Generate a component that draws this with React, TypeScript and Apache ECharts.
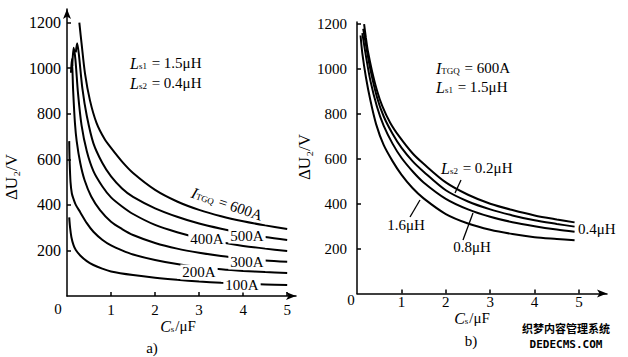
import React, { useEffect, useRef } from "react";
import * as echarts from "echarts";

const FONT = '"Liberation Serif", "Times New Roman", serif';

// tick labels
const xTickValues = [1, 2, 3, 4, 5];
const yTickValues = [200, 400, 600, 800, 1000, 1200];

// a) L_s1 = 1.5uH, L_s2 = 0.4uH, curves for I_TGQ
const a600 = [[0.28,1200],[0.33,1110],[0.41,975],[0.52,860],[0.67,760],[0.85,690],[1,650],[1.25,590],[1.5,540],[2,466],[2.5,415],[3,378],[3.5,350],[4,328],[4.5,310],[5,294]];
const a500 = [[0.2,1070],[0.23,1110],[0.27,1060],[0.35,910],[0.45,790],[0.6,670],[0.8,585],[1,525],[1.25,472],[1.5,435],[2,385],[2.5,348],[3,318],[3.5,295],[4,275],[4.5,259],[5,246]];
const a400 = [[0.12,1010],[0.15,1090],[0.19,1040],[0.25,890],[0.33,750],[0.45,635],[0.6,548],[0.8,482],[1,433],[1.25,393],[1.5,360],[2,312],[2.5,280],[3,255],[3.5,236],[4,220],[4.5,208],[5,198]];
const a300 = [[0.09,980],[0.11,1040],[0.14,900],[0.18,760],[0.22,680],[0.3,585],[0.4,508],[0.55,437],[0.75,377],[1,326],[1.25,294],[1.5,268],[2,233],[2.5,208],[3,190],[3.5,176],[4,165],[4.5,156],[5,150]];
const a200 = [[0.05,680],[0.06,590],[0.08,500],[0.11,450],[0.15,425],[0.2,400],[0.3,368],[0.45,320],[0.6,282],[0.8,247],[1,222],[1.25,200],[1.5,182],[2,158],[2.5,140],[3,127],[3.5,117],[4,110],[4.5,105],[5,101]];
const a100 = [[0.05,345],[0.07,300],[0.1,258],[0.15,222],[0.2,202],[0.3,178],[0.45,153],[0.6,136],[0.8,120],[1,108],[1.5,92],[2,80],[2.5,71],[3,64],[3.5,58],[4,54],[4.5,51],[5,48]];

// b) I_TGQ = 600A, L_s1 = 1.5uH, curves for L_s2
const b02 = [[0.16,1200],[0.2,1140],[0.25,1075],[0.34,990],[0.45,905],[0.57,835],[0.75,760],[0.95,700],[1.25,625],[1.5,578],[2,495],[2.5,440],[3,400],[3.5,372],[4,348],[4.5,330],[4.9,317]];
const b04 = [[0.14,1180],[0.2,1110],[0.3,1000],[0.45,875],[0.6,790],[0.8,712],[1,650],[1.25,590],[1.5,543],[2,460],[2.5,410],[3,375],[3.5,348],[4,326],[4.5,310],[4.9,298]];
const b08 = [[0.12,1160],[0.2,1060],[0.3,950],[0.45,832],[0.6,748],[0.8,668],[1,605],[1.25,545],[1.5,495],[2,422],[2.5,375],[3,342],[3.5,318],[4,300],[4.5,285],[4.9,275]];
const b16 = [[0.08,1150],[0.12,1070],[0.2,965],[0.3,862],[0.43,755],[0.6,662],[0.8,590],[1,530],[1.25,470],[1.5,424],[2,354],[2.5,312],[3,284],[3.5,265],[4,251],[4.5,243],[4.9,237]];

const aCurves = [
  { name: "600A", data: a600 },
  { name: "500A", data: a500 },
  { name: "400A", data: a400 },
  { name: "300A", data: a300 },
  { name: "200A", data: a200 },
  { name: "100A", data: a100 },
];
const bCurves = [
  { name: "0.2μH", data: b02 },
  { name: "0.4μH", data: b04 },
  { name: "0.8μH", data: b08 },
  { name: "1.6μH", data: b16 },
];

const plain = (v: number) => String(v);

function makeX(gridIndex: number, max: number, margin: number) {
  return {
    type: "value",
    gridIndex,
    min: 0,
    max,
    axisLine: {
      lineStyle: { color: "#000", width: 1.5 },
      symbol: ["none", "arrow"],
      symbolSize: [6, 10],
    },
    axisTick: { inside: true, length: 4, customValues: xTickValues, lineStyle: { color: "#000", width: 1.5 } },
    axisLabel: { customValues: xTickValues, margin, fontSize: 15, fontFamily: FONT, color: "#000", formatter: plain },
    splitLine: { show: false },
  };
}
function makeY(gridIndex: number, max: number, margin: number, fontSize: number, arrow: boolean) {
  return {
    type: "value",
    gridIndex,
    min: 0,
    max,
    axisLine: {
      show: true,
      lineStyle: { color: "#000", width: 1.5 },
      symbol: arrow ? ["none", "arrow"] : ["none", "none"],
      symbolSize: [6, 10],
    },
    axisTick: { show: true, inside: true, length: 4, customValues: yTickValues, lineStyle: { color: "#000", width: 1.5 } },
    axisLabel: { customValues: yTickValues, margin, fontSize, fontFamily: FONT, color: "#000", formatter: plain },
    splitLine: { show: false },
  };
}

const txt = (x: number, y: number, text: string, extra: any = {}, rot = 0) => ({
  type: "text",
  x,
  y,
  rotation: rot,
  z: 100,
  style: {
    text,
    fill: "#000",
    fontSize: 15,
    fontFamily: FONT,
    align: "center",
    verticalAlign: "middle",
    ...extra,
  },
});

const subRich = {
  i: { fontStyle: "italic", fontSize: 16, fontFamily: FONT, fill: "#000", lineHeight: 15 },
  s: { fontSize: 9, fontFamily: FONT, fill: "#000", lineHeight: 9, padding: [5, 1, 0, 0] },
  n: { fontSize: 15, fontFamily: FONT, fill: "#000", lineHeight: 15 },
};

const line = (x1: number, y1: number, x2: number, y2: number) => ({
  type: "line",
  z: 100,
  shape: { x1, y1, x2, y2 },
  style: { stroke: "#000", lineWidth: 1.3 },
});

export default function App() {
  const ref = useRef<HTMLDivElement>(null);
  useEffect(() => {
    if (!ref.current) return;
    const chart = echarts.init(ref.current, null, { renderer: "svg" });
    const series: any[] = [];
    aCurves.forEach((c) =>
      series.push({
        type: "line",
        name: c.name,
        xAxisIndex: 0,
        yAxisIndex: 0,
        data: c.data,
        smooth: 0.3,
        showSymbol: false,
        lineStyle: { color: "#000", width: 2 },
      })
    );
    bCurves.forEach((c) =>
      series.push({
        type: "line",
        name: c.name,
        xAxisIndex: 1,
        yAxisIndex: 1,
        data: c.data,
        smooth: 0.3,
        showSymbol: false,
        lineStyle: { color: "#000", width: 2 },
      })
    );
    const bg = { backgroundColor: "#fff", padding: [0, 2] };
    chart.setOption({
      animation: false,
      backgroundColor: "#fff",
      grid: [
        { left: 67, top: 9, width: 229, height: 287 },
        { left: 357, top: 22, width: 250, height: 271.5 },
      ],
      xAxis: [makeX(0, 5.2, 6), makeX(1, 5.63, 1)],
      yAxis: [makeY(0, 1260, 6, 16, true), makeY(1, 1210, 10, 15, false)],
      series,
      graphic: [
        // axis names
        txt(11, 177, "ΔU₂/V", { fontSize: 17 }, Math.PI / 2),
        txt(304, 157, "ΔU₂/V", { fontSize: 17 }, Math.PI / 2),
        txt(178, 326, "", { text: "{i|C}{s|s}{n|/μF}", rich: subRich }),
        txt(152, 348, "a)"),
        txt(472, 318, "", { text: "{i|C}{s|s}{n|/μF}", rich: subRich }),
        txt(471, 341, "b)"),
        txt(58, 309, "0"),
        txt(351, 300, "0"),
        // a) annotations
        txt(130, 63, "", { align: "left", text: "{i|L}{s|s1}{n| = 1.5μH}", rich: subRich }),
        txt(130, 83, "", { align: "left", text: "{i|L}{s|s2}{n| = 0.4μH}", rich: subRich }),
        txt(227, 204, "", { text: "{i|I}{s|TGQ}{n| = 600A}", rich: subRich }, -0.33),
        txt(247, 236, "500A", bg),
        txt(207, 239, "400A", bg),
        txt(247, 262, "300A", bg),
        txt(199, 272, "200A", bg),
        txt(242, 285, "100A", bg),
        // b) annotations
        txt(436, 68, "", { align: "left", text: "{i|I}{s|TGQ}{n| = 600A}", rich: subRich }),
        txt(436, 87, "", { align: "left", text: "{i|L}{s|s1}{n| = 1.5μH}", rich: subRich }),
        txt(441, 168, "", { align: "left", text: "{i|L}{s|s2}{n| = 0.2μH}", rich: subRich }),
        line(455, 193, 461, 180),
        txt(578, 229, "0.4μH", { align: "left" }),
        txt(406, 225, "1.6μH"),
        line(410, 217, 420, 200),
        txt(472, 247, "0.8μH"),
        line(463, 240, 473, 213),
        // watermark
        txt(566, 328, "织梦内容管理系统", {
          fontFamily: '"Noto Sans CJK SC", sans-serif',
          fontSize: 11,
          fontWeight: "bold",
          lineHeight: 12,
        }),
        txt(566, 344, "DEDECMS.COM", {
          fontFamily: '"DejaVu Sans Mono", monospace',
          fontSize: 11,
          fontWeight: "bold",
          lineHeight: 12,
        }),
      ],
    });
    return () => chart.dispose();
  }, []);
  return (
    <div
      ref={ref}
      style={{ position: "fixed", left: 0, top: 0, width: 628, height: 357, background: "#fff" }}
    />
  );
}
